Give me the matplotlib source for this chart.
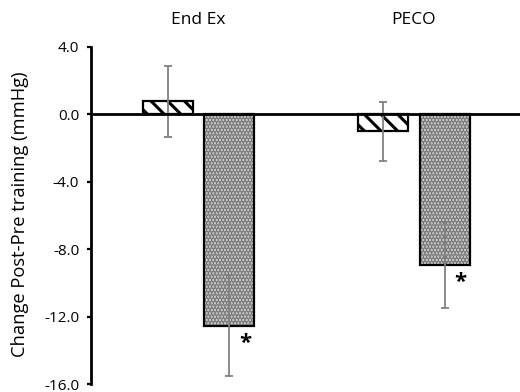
import matplotlib
matplotlib.use("Agg")
import matplotlib.pyplot as plt
import matplotlib.transforms as mtransforms
import numpy as np

groups = ["End Ex", "PECO"]
series_a = [0.77, -1.0]      # hatched bars
series_a_err = [2.1, 1.75]
series_b = [-12.55, -8.95]   # dotted bars
series_b_err = [3.0, 2.55]
yticks = [4.0, 0.0, -4.0, -8.0, -12.0, -16.0]

plt.rcParams['font.family'] = ['Open Sans', 'DejaVu Sans']
plt.rcParams['hatch.linewidth'] = 2.2

fig = plt.figure(figsize=(5.2, 3.92), dpi=100)
ax = fig.add_axes([91/520, 1 - 384/392, 1 - 91/520, (384 - 47)/392])

x = np.arange(len(groups))
w = 0.232
off = 0.1427

# hatched bars
ax.bar(x - off, series_a, w, color='white', edgecolor='black', hatch='\\\\', linewidth=0, zorder=2)
ax.bar(x - off, series_a, w, fill=False, edgecolor='black', linewidth=1.6, zorder=3)
# dotted bars
ax.bar(x + off, series_b, w, color='#d9d9d9', edgecolor='#707070', hatch='.....', linewidth=0, zorder=2)
ax.bar(x + off, series_b, w, fill=False, edgecolor='black', linewidth=1.6, zorder=3)

ax.errorbar(x - off, series_a, yerr=series_a_err, fmt='none', ecolor='#808080', elinewidth=1.3, capsize=3, capthick=1.3, zorder=4)
ax.errorbar(x + off, series_b, yerr=series_b_err, fmt='none', ecolor='#808080', elinewidth=1.3, capsize=3, capthick=1.3, zorder=4)

ax.axhline(0, color='black', linewidth=2, zorder=5)

for xi, v in zip(x, series_b):
    ax.text(xi + off + 0.074, v - 1.05, '*', fontsize=16, fontweight='bold', ha='center', va='center', zorder=6)

ax.set_xlim(-0.4977, 1.493)
ax.set_ylim(-16, 4)
ax.set_yticks(yticks)
ax.set_yticklabels([f"{t:.1f}" for t in yticks], fontsize=11)
ax.tick_params(axis='y', direction='out', length=3, width=1.6, pad=5.5)
ax.set_xticks([])
for s in ['top', 'right', 'bottom']:
    ax.spines[s].set_visible(False)
ax.spines['left'].set_linewidth(2)

fig.text(20/520, 1 - 214/392, 'Change Post-Pre training (mmHg)', rotation=90,
         ha='center', va='center', fontsize=13.2)

trans = mtransforms.blended_transform_factory(ax.transData, fig.transFigure)
for xi, g in zip(x, groups):
    ax.text(xi, 1 - 20/392, g, transform=trans, ha='center', va='center', fontsize=12.5)

fig.savefig('out.png', dpi=100)
